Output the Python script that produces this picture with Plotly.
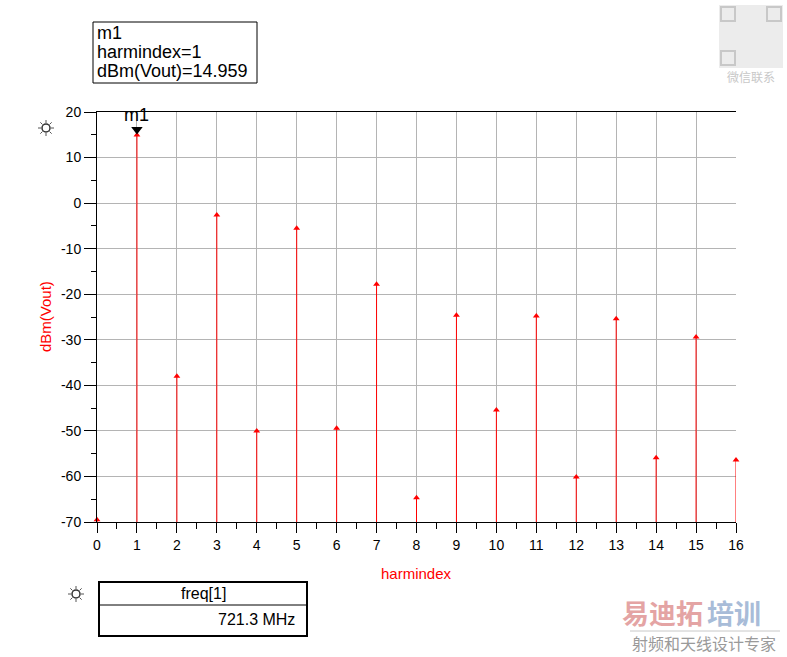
import math
import plotly.graph_objects as go

# ---- data ----
harmindex = list(range(17))
dbm_vout = [-69.5, 14.959, -38.0, -2.6, -50.0, -5.5, -49.4, -17.8, -64.7,
            -24.6, -45.4, -24.8, -60.1, -25.4, -55.9, -29.4, -56.4]
y_floor = -70
marker_index = 1
marker_name = "m1"
freq_label = "freq[1]"
freq_value = "721.3 MHz"
x_ticks = list(range(0, 17))
y_ticks = list(range(-70, 21, 10))

W, H = 787, 657
L, R, T, B = 97, 736, 112, 522  # plot area in pixels


def px(x):
    return (x - L) / (R - L)


def py(y):
    return (B - y) / (B - T)


FONT = "Liberation Sans, Arial, sans-serif"
RED = "#ff0000"

# stems built from data
sx, sy = [], []
for x, v in zip(harmindex, dbm_vout):
    sx += [x, x, None]
    sy += [y_floor, v, None]

m_val = dbm_vout[harmindex.index(marker_index)]
px_per_unit = (B - T) / (y_ticks[-1] - y_ticks[0])

fig = go.Figure()
fig.add_trace(go.Scatter(x=sx, y=sy, mode="lines", line=dict(color=RED, width=1),
                         hoverinfo="skip", showlegend=False, cliponaxis=False))
fig.add_trace(go.Scatter(x=harmindex, y=dbm_vout, mode="markers",
                         marker=dict(symbol="triangle-up", size=6, color=RED),
                         showlegend=False, cliponaxis=False))
# marker m1 indicator (5 px above the marked point)
fig.add_trace(go.Scatter(x=[marker_index], y=[m_val + 5.5 / px_per_unit], mode="markers",
                         marker=dict(symbol="triangle-down", size=10, color="black"),
                         hoverinfo="skip", showlegend=False, cliponaxis=False))


def ann(x, y, text, size, color="black", xanchor="center", family=FONT, **kw):
    return dict(x=x, y=y, xref="paper", yref="paper", text=text, showarrow=False,
                xanchor=xanchor, yanchor="middle",
                font=dict(family=family, size=size, color=color), **kw)


annotations = [
    dict(x=marker_index, y=m_val, xref="x", yref="y", text=marker_name, showarrow=False,
         xanchor="center", yanchor="middle",
         yshift=20, font=dict(family=FONT, size=18, color="black")),
    # axis titles
    ann(px(45), 0.5, "dBm(Vout)", 15, RED, textangle=-90),
    ann(0.5, py(573), "harmindex", 15, RED),
    # marker readout
    ann(px(95), py(33), marker_name, 18, xanchor="left"),
    ann(px(95), py(52), f"harmindex={marker_index}", 18, xanchor="left"),
    ann(px(95), py(71), f"dBm(Vout)={m_val:.3f}", 18, xanchor="left"),
    # freq table
    ann(px(203), py(593), freq_label, 16),
    ann(px(297), py(619), freq_value, 16, xanchor="right"),
    # watermarks
    ann(px(751), py(77), "微信联系", 12, "#c8c8c8", family="Noto Sans CJK SC"),
    ann(px(705), py(612), "<b>易迪拓</b>", 27, "#e4a4a4", xanchor="right",
        family="Noto Sans CJK SC"),
    ann(px(705), py(612), "<b>培训</b>", 27, "#a8bcd8", xanchor="left",
        family="Noto Sans CJK SC"),
    ann(px(704), py(643), "射频和天线设计专家", 16, "#9a9a9a", family="Noto Sans CJK SC"),
]

shapes = [
    # readout box
    dict(type="rect", xref="paper", yref="paper", x0=px(93), x1=px(257), y0=py(83), y1=py(22),
         line=dict(color="black", width=1)),
    # freq table
    dict(type="rect", xref="paper", yref="paper", x0=px(99), x1=px(307), y0=py(636), y1=py(582),
         line=dict(color="black", width=2)),
    dict(type="line", xref="paper", yref="paper", x0=px(99), x1=px(307), y0=py(605), y1=py(605),
         line=dict(color="black", width=1)),
    # watermark QR placeholder
    dict(type="rect", xref="paper", yref="paper", x0=px(719), x1=px(783), y0=py(68), y1=py(5),
         line=dict(width=0), fillcolor="#ececec"),
    dict(type="line", xref="paper", yref="paper", x0=px(630), x1=px(780), y0=py(631), y1=py(631),
         line=dict(color="#c8c8c8", width=1)),
]
for qx, qy in [(721, 7), (767, 7), (721, 51)]:
    shapes.append(dict(type="rect", xref="paper", yref="paper", x0=px(qx), x1=px(qx + 14),
                       y0=py(qy + 14), y1=py(qy), line=dict(color="#c8c8c8", width=2)))

# sun icons
for cx, cy in [(46, 128), (76, 594)]:
    ax, ay = px(cx), py(cy)
    shapes.append(dict(type="circle", xref="paper", yref="paper", xsizemode="pixel",
                       ysizemode="pixel", xanchor=ax, yanchor=ay, x0=-4, x1=4, y0=-4, y1=4,
                       line=dict(color="#333333", width=1.5)))
    for k in range(8):
        a = k * math.pi / 4
        shapes.append(dict(type="line", xref="paper", yref="paper", xsizemode="pixel",
                           ysizemode="pixel", xanchor=ax, yanchor=ay,
                           x0=5 * math.cos(a), y0=5 * math.sin(a),
                           x1=11 * math.cos(a), y1=11 * math.sin(a),
                           line=dict(color="#555555", width=1, dash="dot")))

fig.update_layout(
    width=W, height=H,
    margin=dict(l=L, r=W - R, t=T, b=H - B, autoexpand=False),
    paper_bgcolor="white", plot_bgcolor="white",
    font=dict(family=FONT, size=13, color="black"),
    annotations=annotations, shapes=shapes, showlegend=False,
    xaxis=dict(range=[0, 16], tickvals=x_ticks, ticks="outside", ticklen=10, tickcolor="black",
               showline=True, linecolor="black", linewidth=1, mirror=True,
               showgrid=True, gridcolor="#b4b4b4", gridwidth=1, zeroline=False,
               minor=dict(dtick=0.5, ticks="outside", ticklen=6, tickcolor="black", showgrid=False),
               tickfont=dict(size=14), fixedrange=True),
    yaxis=dict(range=[-70, 20], tickvals=y_ticks, ticktext=[str(v) for v in y_ticks],
               ticks="outside", ticklen=12, tickcolor="black",
               showline=True, linecolor="black", linewidth=1,
               showgrid=True, gridcolor="#b4b4b4", gridwidth=1, zeroline=False,
               minor=dict(dtick=5, ticks="outside", ticklen=5, tickcolor="black", showgrid=False),
               tickfont=dict(size=14), fixedrange=True),
)

fig.write_html("out.html", config={"displayModeBar": False},
               post_script="document.body.style.margin='0px';document.body.style.overflow='hidden';")
